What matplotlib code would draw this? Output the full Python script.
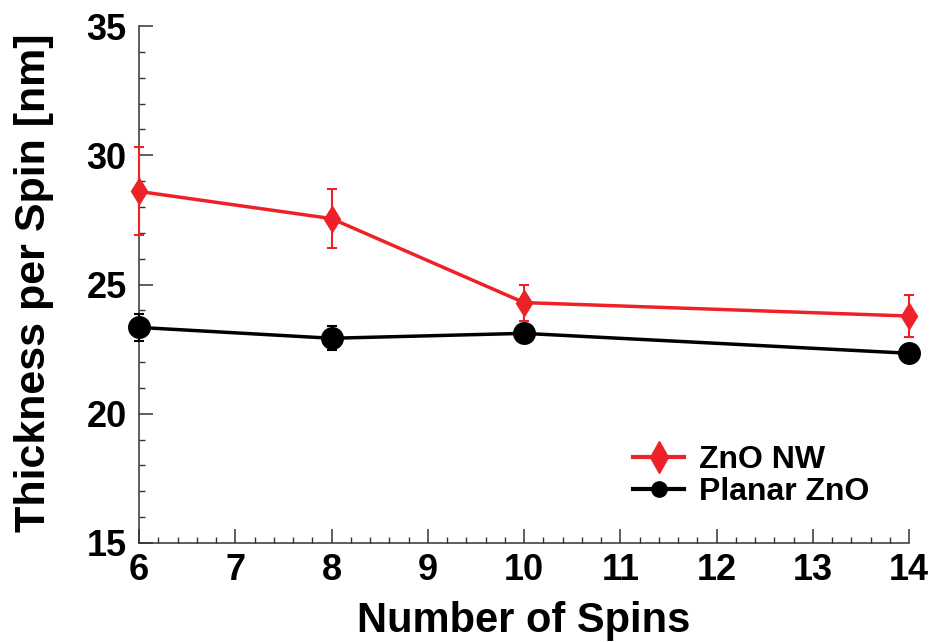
import numpy as np
import matplotlib.pyplot as plt
from matplotlib.ticker import MultipleLocator

# data
spins = [6, 8, 10, 14]
nw = [28.6, 27.55, 24.3, 23.78]
nw_err = [1.7, 1.15, 0.7, 0.83]
planar = [23.34, 22.92, 23.11, 22.34]
planar_err = [0.53, 0.47, 0.2, 0.15]

red = '#ee2226'
axc = '#333333'

plt.rcParams['font.family'] = ['Liberation Sans', 'DejaVu Sans']
plt.rcParams['font.weight'] = 'bold'

fig = plt.figure(figsize=(9.33, 6.42), dpi=100)
ax = fig.add_axes([139/933, 1 - 543/642, (909-139)/933, (543-26)/642])

e1 = ax.errorbar(spins, nw, yerr=nw_err, color=red, lw=2.5, marker='d', ms=13,
                 capsize=3.7, capthick=1.5, elinewidth=1.5, label='ZnO NW', zorder=3)
e2 = ax.errorbar(spins, planar, yerr=planar_err, color='black', lw=2.5, marker='o', ms=15.5,
                 capsize=3.7, capthick=1.5, elinewidth=1.5, label='Planar ZnO', zorder=3)
for c in ax.get_children():
    try:
        c.set_clip_on(False)
    except Exception:
        pass

ax.set_xlim(6, 14)
ax.set_ylim(15, 35)
ax.xaxis.set_major_locator(MultipleLocator(1))
ax.xaxis.set_minor_locator(MultipleLocator(0.2))
ax.yaxis.set_major_locator(MultipleLocator(5))
ax.yaxis.set_minor_locator(MultipleLocator(1))

for s in ['top', 'right']:
    ax.spines[s].set_visible(False)
for s in ['left', 'bottom']:
    ax.spines[s].set_linewidth(1.1)
    ax.spines[s].set_color(axc)
ax.tick_params(which='major', direction='in', length=10, width=1.1, color=axc, labelsize=26)
ax.tick_params(axis='x', which='major', pad=7)
ax.tick_params(axis='y', which='major', pad=9)
ax.tick_params(which='minor', direction='in', length=4.5, width=1.0, color=axc)

ax.set_xlabel('Number of Spins', fontsize=30, fontweight='bold')
ax.set_ylabel('Thickness per Spin [nm]', fontsize=31, fontweight='bold')
ax.xaxis.set_label_coords(0.499, -0.112)
ax.yaxis.set_label_coords(-0.11, 0.503)

handles = [e1[0], e2[0]]
labels = ['ZnO NW', 'Planar ZnO']
leg = ax.legend(handles, labels, loc='center left', bbox_to_anchor=((633-139)/770, 0.1296),
                frameon=False, fontsize=23, handlelength=1.6, handletextpad=0.47,
                labelspacing=0.08, borderpad=0, borderaxespad=0)
lh = leg.legend_handles
lh[0].set_markersize(16)
lh[0].set_linewidth(3)
lh[1].set_markersize(11)
lh[1].set_linewidth(3)

fig.savefig('out.png', dpi=100)
